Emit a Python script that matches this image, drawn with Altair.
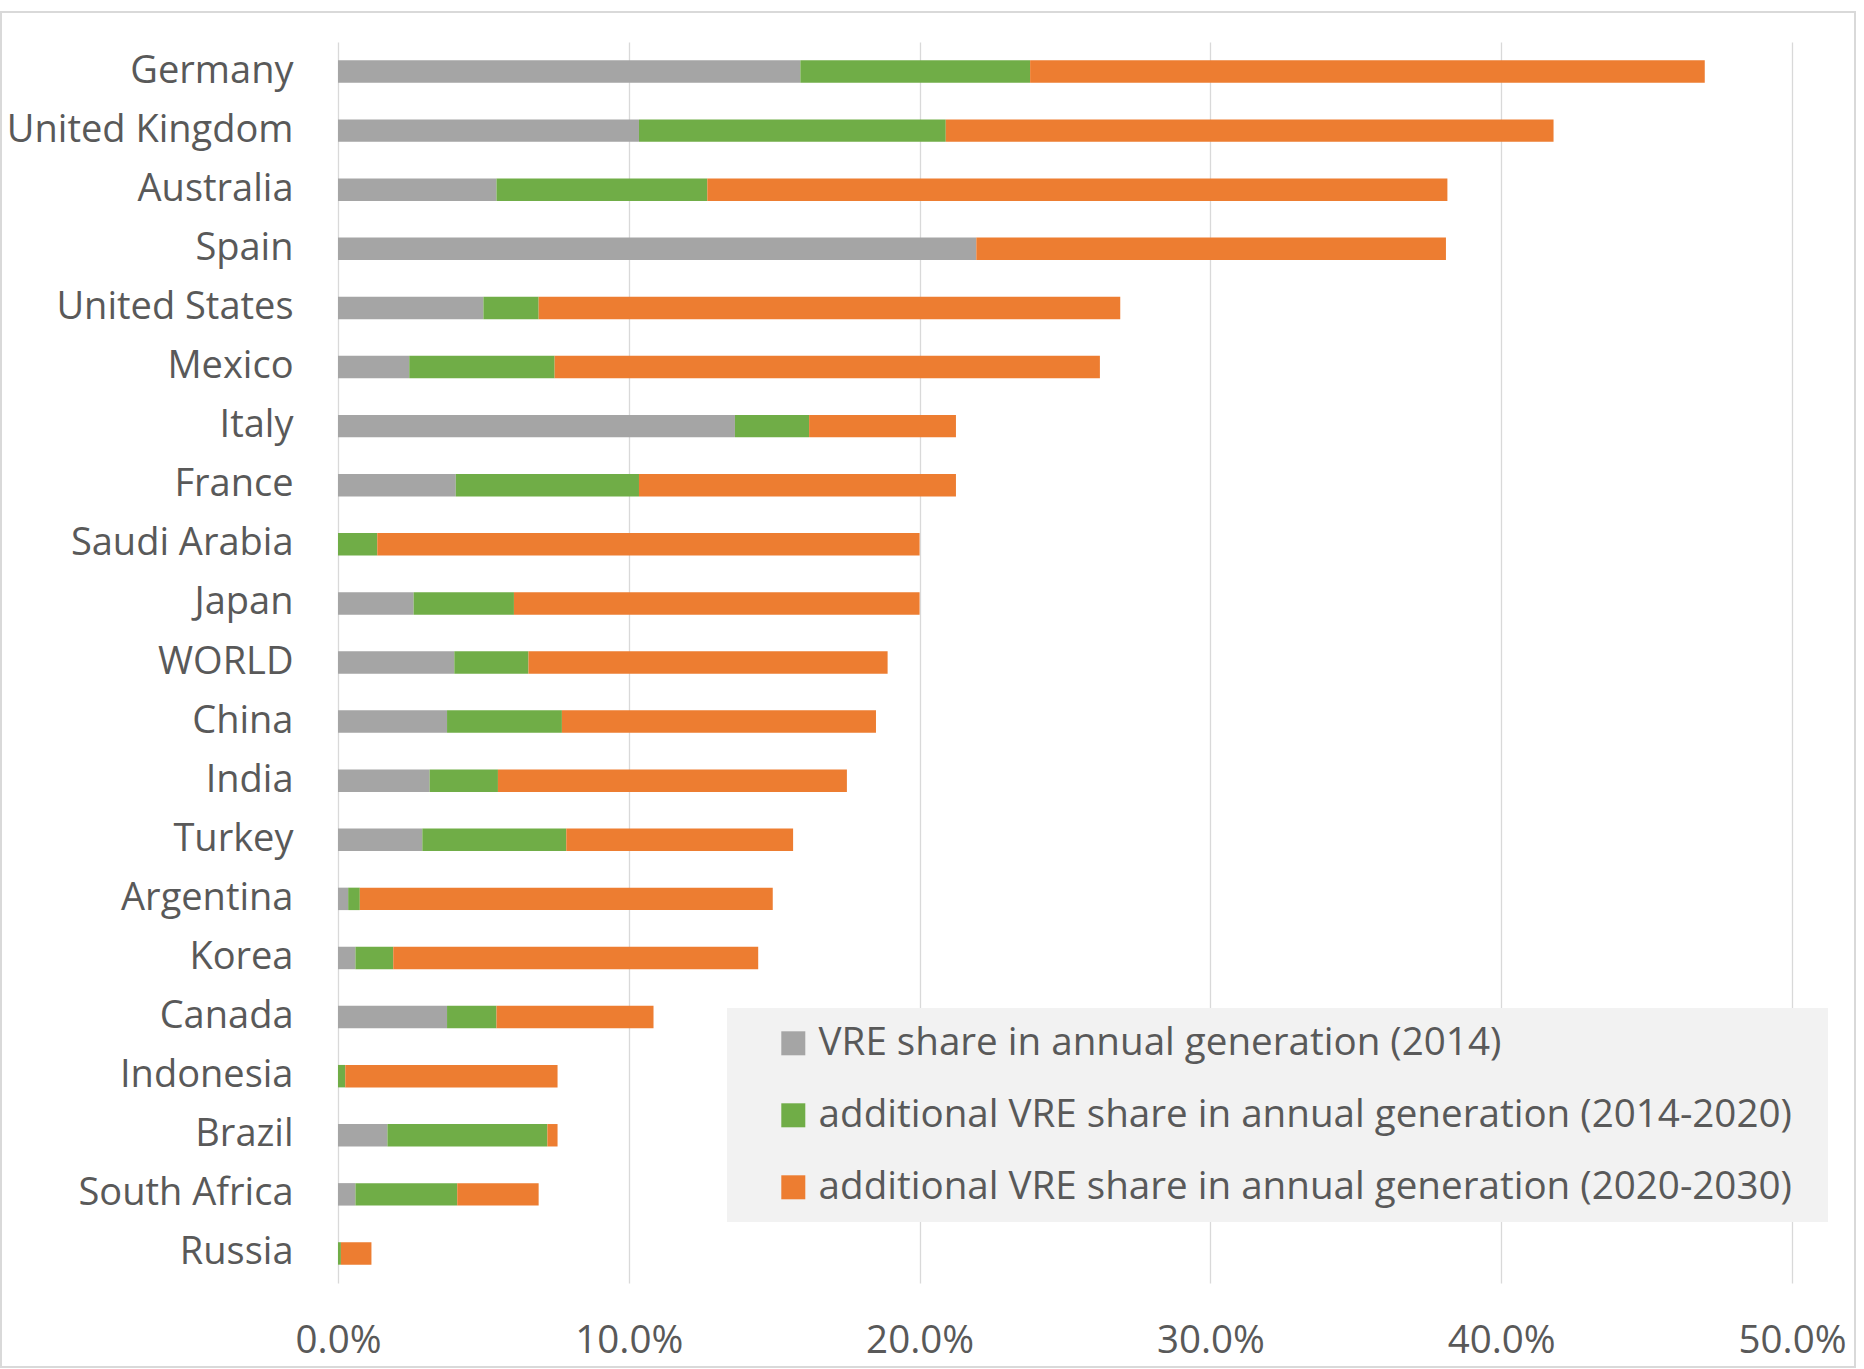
import altair as alt
import pandas as pd

# ---- data (percent of annual generation) ----
countries = [
    "Germany", "United Kingdom", "Australia", "Spain", "United States", "Mexico",
    "Italy", "France", "Saudi Arabia", "Japan", "WORLD", "China", "India", "Turkey",
    "Argentina", "Korea", "Canada", "Indonesia", "Brazil", "South Africa", "Russia",
]
vre_2014 = [15.9, 10.35, 5.45, 21.95, 5.0, 2.45, 13.65, 4.05, 0.0, 2.6, 4.0, 3.75,
            3.15, 2.9, 0.35, 0.6, 3.75, 0.0, 1.7, 0.6, 0.0]
add_2014_2020 = [7.9, 10.55, 7.25, 0.0, 1.9, 5.0, 2.55, 6.3, 1.35, 3.45, 2.55, 3.95,
                 2.35, 4.95, 0.4, 1.3, 1.7, 0.25, 5.5, 3.5, 0.1]
add_2020_2030 = [23.2, 20.9, 25.45, 16.15, 20.0, 18.75, 5.05, 10.9, 18.65, 13.95, 12.35,
                 10.8, 12.0, 7.8, 14.2, 12.55, 5.4, 7.3, 0.35, 2.8, 1.05]
series_names = [
    "VRE share in annual generation (2014)",
    "additional VRE share in annual generation (2014-2020)",
    "additional VRE share in annual generation (2020-2030)",
]
series_colors = ["#A5A5A5", "#70AD47", "#ED7D31"]
tick_values = [0.0, 0.1, 0.2, 0.3, 0.4, 0.5]

rows = []
for i, c in enumerate(countries):
    for k, vals in enumerate([vre_2014, add_2014_2020, add_2020_2030]):
        rows.append({"country": c, "series": series_names[k], "order": k, "value": vals[i] / 100.0})
df = pd.DataFrame(rows)

FONT = "Open Sans"
TEXT = "#595959"
W, H = 1454, 1241

bars = alt.Chart(df).mark_bar().encode(
    y=alt.Y(
        "country:N", sort=countries,
        scale=alt.Scale(paddingInner=0.62, paddingOuter=0.31),
        axis=alt.Axis(title=None, labelFontSize=38, labelColor=TEXT, labelFont=FONT,
                      labelPadding=45, ticks=False, domain=False, grid=False,
                      labelLimit=600),
    ),
    x=alt.X(
        "value:Q", stack="zero",
        scale=alt.Scale(domain=[0, 0.5], nice=False),
        axis=alt.Axis(title=None, format=".1%", values=tick_values, labelFontSize=38.5,
                      labelColor=TEXT, labelFont=FONT, labelPadding=39, ticks=False,
                      domain=False, grid=True, gridColor="#D9D9D9", gridWidth=1.3,
                      labelFlush=False),
    ),
    color=alt.Color(
        "series:N", sort=series_names,
        scale=alt.Scale(domain=series_names, range=series_colors),
        legend=alt.Legend(title=None, orient="none", legendX=436, legendY=982,
                          direction="vertical", symbolType="square", symbolSize=576,
                          symbolStrokeWidth=0, symbolOpacity=1, labelFontSize=38.6,
                          labelColor=TEXT, labelFont=FONT, rowPadding=33,
                          labelOffset=6, padding=0, labelLimit=1200),
    ),
    order=alt.Order("order:Q"),
)

one = pd.DataFrame({"k": [0]})
legend_bg = alt.Chart(one).mark_rect(fill="#F2F2F2").encode(
    x=alt.value(389), x2=alt.value(1490), y=alt.value(966), y2=alt.value(1180)
)
frame = alt.Chart(one).mark_rect(fillOpacity=0, stroke="#D9D9D9", strokeWidth=2).encode(
    x=alt.value(-337), x2=alt.value(1517), y=alt.value(-30), y2=alt.value(1325)
)

chart = alt.layer(frame, legend_bg, bars).properties(
    width=W, height=H,
    padding={"left": 338, "top": 42, "right": 72, "bottom": 86},
    autosize=alt.AutoSizeParams(type="none"),
    background="white",
).configure_view(stroke=None)

chart.save("out.html", embed_options={"renderer": "svg", "actions": False})
